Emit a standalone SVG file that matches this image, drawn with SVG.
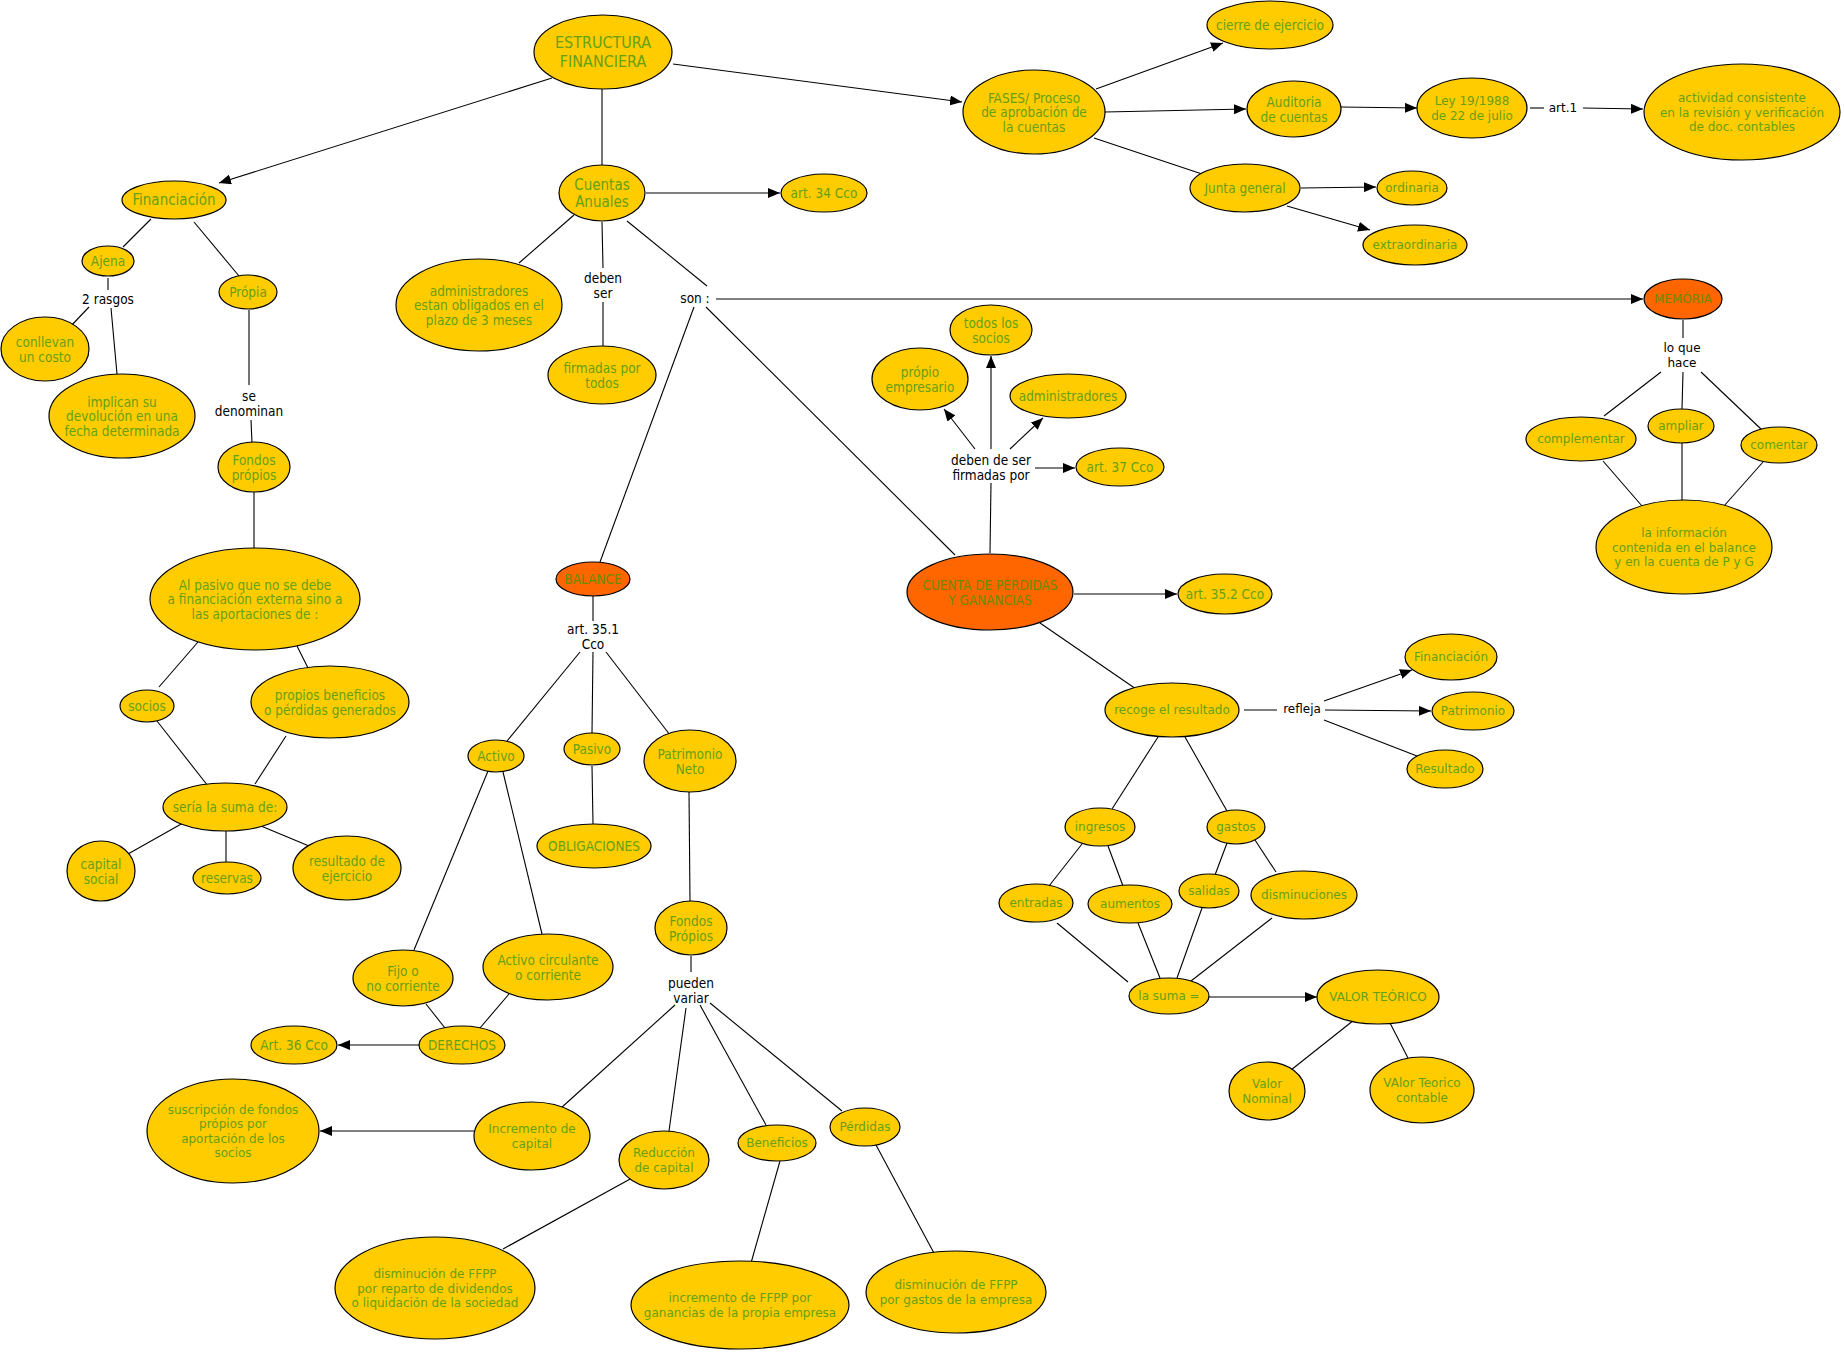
<svg xmlns="http://www.w3.org/2000/svg" width="1844" height="1353" viewBox="0 0 1844 1353">
<style>
.node ellipse{fill:#ffcc00;stroke:#000;stroke-width:1.2}
.node.or ellipse{fill:#ff6600}
.node text{fill:#66a014;text-anchor:middle}
.node.or text{fill:#6b8a00}
.lbl text{fill:#000;text-anchor:middle}
.t{font-family:"DejaVu Sans Condensed","Liberation Sans",sans-serif;font-size:13.5px}
.v{font-family:"DejaVu Sans",Verdana,sans-serif;font-size:12px}
#edges line{stroke:#000;stroke-width:1.1;fill:none}
#edges line.a{marker-end:url(#ah)}
</style>
<defs>
<marker id="ah" viewBox="0 0 12 10" refX="12" refY="5" markerWidth="12" markerHeight="10" orient="auto" markerUnits="userSpaceOnUse"><path d="M0,0 L12,5 L0,10 z" fill="#000"/></marker>
</defs>
<rect width="1844" height="1353" fill="#fff"/>
<g id="edges">
<line class="a" x1="552" y1="78" x2="219" y2="183"/>
<line x1="602" y1="89" x2="602" y2="165"/>
<line class="a" x1="673" y1="64" x2="962" y2="102"/>
<line x1="151" y1="219" x2="123" y2="247"/>
<line x1="194" y1="222" x2="239" y2="276"/>
<line x1="108" y1="278" x2="108" y2="290"/>
<line x1="89" y1="307" x2="69" y2="328"/>
<line x1="111" y1="308" x2="117" y2="374"/>
<line x1="249" y1="310" x2="249" y2="385"/>
<line x1="251" y1="420" x2="252" y2="443"/>
<line x1="254" y1="492" x2="254" y2="548"/>
<line x1="198" y1="642" x2="159" y2="687"/>
<line x1="297" y1="646" x2="308" y2="668"/>
<line x1="157" y1="721" x2="208" y2="786"/>
<line x1="286" y1="736" x2="255" y2="784"/>
<line x1="183" y1="823" x2="128" y2="854"/>
<line x1="226" y1="831" x2="226" y2="862"/>
<line x1="261" y1="826" x2="309" y2="846"/>
<line class="a" x1="646" y1="193" x2="780" y2="193"/>
<line x1="574" y1="215" x2="519" y2="263"/>
<line x1="602" y1="222" x2="603" y2="268"/>
<line x1="603" y1="302" x2="603" y2="346"/>
<line x1="627" y1="221" x2="707" y2="286"/>
<line class="a" x1="716" y1="299" x2="1643" y2="299"/>
<line x1="694" y1="307" x2="600" y2="562"/>
<line x1="706" y1="307" x2="955" y2="555"/>
<line x1="593" y1="596" x2="593" y2="621"/>
<line x1="580" y1="652" x2="507" y2="741"/>
<line x1="593" y1="652" x2="592" y2="733"/>
<line x1="606" y1="652" x2="670" y2="735"/>
<line x1="592" y1="766" x2="593" y2="824"/>
<line x1="488" y1="771" x2="414" y2="950"/>
<line x1="503" y1="772" x2="542" y2="934"/>
<line x1="426" y1="1004" x2="445" y2="1028"/>
<line x1="509" y1="994" x2="480" y2="1028"/>
<line class="a" x1="420" y1="1045" x2="338" y2="1045"/>
<line x1="689" y1="792" x2="690" y2="901"/>
<line x1="691" y1="956" x2="691" y2="972"/>
<line x1="675" y1="1005" x2="561" y2="1108"/>
<line x1="686" y1="1008" x2="669" y2="1131"/>
<line x1="700" y1="1005" x2="766" y2="1125"/>
<line x1="710" y1="1003" x2="842" y2="1111"/>
<line class="a" x1="474" y1="1131" x2="320" y2="1131"/>
<line x1="632" y1="1178" x2="503" y2="1249"/>
<line x1="780" y1="1161" x2="751" y2="1263"/>
<line x1="876" y1="1145" x2="935" y2="1255"/>
<line class="a" x1="1096" y1="89" x2="1223" y2="43"/>
<line class="a" x1="1105" y1="112" x2="1246" y2="109"/>
<line x1="1094" y1="138" x2="1205" y2="175"/>
<line class="a" x1="1341" y1="107" x2="1417" y2="108"/>
<line x1="1530" y1="108" x2="1544" y2="108"/>
<line class="a" x1="1583" y1="108" x2="1643" y2="109"/>
<line class="a" x1="1301" y1="188" x2="1376" y2="187"/>
<line class="a" x1="1287" y1="206" x2="1370" y2="230"/>
<line x1="1683" y1="320" x2="1683" y2="338"/>
<line x1="1661" y1="372" x2="1604" y2="416"/>
<line x1="1683" y1="372" x2="1682" y2="409"/>
<line x1="1701" y1="372" x2="1762" y2="430"/>
<line x1="1603" y1="461" x2="1642" y2="506"/>
<line x1="1682" y1="443" x2="1682" y2="500"/>
<line x1="1763" y1="462" x2="1724" y2="506"/>
<line x1="990" y1="553" x2="991" y2="483"/>
<line class="a" x1="991" y1="449" x2="991" y2="356"/>
<line class="a" x1="975" y1="449" x2="944" y2="409"/>
<line class="a" x1="1010" y1="449" x2="1043" y2="418"/>
<line class="a" x1="1035" y1="468" x2="1075" y2="468"/>
<line class="a" x1="1074" y1="594" x2="1177" y2="594"/>
<line x1="1040" y1="623" x2="1136" y2="689"/>
<line x1="1244" y1="710" x2="1277" y2="710"/>
<line class="a" x1="1324" y1="701" x2="1412" y2="670"/>
<line class="a" x1="1325" y1="710" x2="1431" y2="711"/>
<line x1="1324" y1="720" x2="1417" y2="756"/>
<line x1="1158" y1="737" x2="1112" y2="809"/>
<line x1="1185" y1="737" x2="1227" y2="811"/>
<line x1="1082" y1="844" x2="1049" y2="886"/>
<line x1="1108" y1="846" x2="1123" y2="886"/>
<line x1="1227" y1="843" x2="1215" y2="875"/>
<line x1="1255" y1="840" x2="1276" y2="872"/>
<line x1="1057" y1="923" x2="1128" y2="982"/>
<line x1="1138" y1="923" x2="1160" y2="978"/>
<line x1="1202" y1="908" x2="1177" y2="978"/>
<line x1="1272" y1="918" x2="1191" y2="981"/>
<line class="a" x1="1209" y1="997" x2="1317" y2="997"/>
<line x1="1354" y1="1020" x2="1291" y2="1070"/>
<line x1="1390" y1="1023" x2="1408" y2="1058"/>
</g>
<g id="labels" class="lbl">
<text class="t" x="108" y="304">2 rasgos</text>
<text class="t" x="249" y="401"><tspan x="249">se</tspan><tspan x="249" dy="14.5">denominan</tspan></text>
<text class="t" x="603" y="283"><tspan x="603">deben</tspan><tspan x="603" dy="14.5">ser</tspan></text>
<text class="t" x="695" y="303">son :</text>
<text class="t" x="593" y="634"><tspan x="593">art. 35.1</tspan><tspan x="593" dy="14.5">Cco</tspan></text>
<text class="t" x="691" y="988"><tspan x="691">pueden</tspan><tspan x="691" dy="14.5">variar</tspan></text>
<text class="t" x="991" y="465"><tspan x="991">deben de ser</tspan><tspan x="991" dy="14.5">firmadas por</tspan></text>
<text class="v" x="1563" y="112">art.1</text>
<text class="v" x="1682" y="352"><tspan x="1682">lo que</tspan><tspan x="1682" dy="14.5">hace</tspan></text>
<text class="v" x="1302" y="713">refleja</text>
</g>
<g id="n_estructura" class="node"><ellipse cx="603" cy="52" rx="69" ry="37"/><text class="t" style="font-size:16px" x="603" y="48"><tspan x="603">ESTRUCTURA</tspan><tspan x="603" dy="19">FINANCIERA</tspan></text></g>
<g id="n_financiacion" class="node"><ellipse cx="174" cy="200" rx="52" ry="19"/><text class="t" style="font-size:15px" x="174" y="205">Financiación</text></g>
<g id="n_ajena" class="node"><ellipse cx="108" cy="261" rx="26" ry="15"/><text class="t" x="108" y="266">Ajena</text></g>
<g id="n_propia" class="node"><ellipse cx="248" cy="292" rx="29" ry="17"/><text class="t" x="248" y="297">Própia</text></g>
<g id="n_conllevan" class="node"><ellipse cx="45" cy="349" rx="44" ry="32"/><text class="t" x="45" y="347"><tspan x="45">conllevan</tspan><tspan x="45" dy="14.5">un costo</tspan></text></g>
<g id="n_implican" class="node"><ellipse cx="122" cy="416" rx="73" ry="42"/><text class="t" x="122" y="406.5"><tspan x="122">implican su</tspan><tspan x="122" dy="14.5">devolución en una</tspan><tspan x="122" dy="14.5">fecha determinada</tspan></text></g>
<g id="n_fondos1" class="node"><ellipse cx="254" cy="467" rx="36" ry="25"/><text class="t" x="254" y="465"><tspan x="254">Fondos</tspan><tspan x="254" dy="14.5">própios</tspan></text></g>
<g id="n_alpasivo" class="node"><ellipse cx="255" cy="599" rx="105" ry="51"/><text class="t" x="255" y="589.5"><tspan x="255">Al pasivo que no se debe</tspan><tspan x="255" dy="14.5">a financiación externa sino a</tspan><tspan x="255" dy="14.5">las aportaciones de :</tspan></text></g>
<g id="n_socios" class="node"><ellipse cx="147" cy="706" rx="27" ry="16"/><text class="t" x="147" y="711">socios</text></g>
<g id="n_propiosben" class="node"><ellipse cx="330" cy="702" rx="79" ry="36"/><text class="t" x="330" y="700"><tspan x="330">propios beneficios</tspan><tspan x="330" dy="14.5">o pérdidas generados</tspan></text></g>
<g id="n_seria" class="node"><ellipse cx="225" cy="807" rx="62" ry="24"/><text class="t" x="225" y="812">sería la suma de:</text></g>
<g id="n_capital" class="node"><ellipse cx="101" cy="871" rx="34" ry="30"/><text class="t" x="101" y="869"><tspan x="101">capital</tspan><tspan x="101" dy="14.5">social</tspan></text></g>
<g id="n_reservas" class="node"><ellipse cx="227" cy="878" rx="34" ry="16"/><text class="t" x="227" y="883">reservas</text></g>
<g id="n_resultado" class="node"><ellipse cx="347" cy="868" rx="54" ry="32"/><text class="t" x="347" y="866"><tspan x="347">resultado de</tspan><tspan x="347" dy="14.5">ejercicio</tspan></text></g>
<g id="n_cuentas" class="node"><ellipse cx="602" cy="193" rx="43" ry="28"/><text class="t" style="font-size:15px" x="602" y="190"><tspan x="602">Cuentas</tspan><tspan x="602" dy="16.5">Anuales</tspan></text></g>
<g id="n_art34" class="node"><ellipse cx="824" cy="193" rx="43" ry="19"/><text class="t" x="824" y="198">art. 34 Cco</text></g>
<g id="n_adminobl" class="node"><ellipse cx="479" cy="305" rx="83" ry="46"/><text class="t" x="479" y="295.5"><tspan x="479">administradores</tspan><tspan x="479" dy="14.5">estan obligados en el</tspan><tspan x="479" dy="14.5">plazo de 3 meses</tspan></text></g>
<g id="n_firmadas" class="node"><ellipse cx="602" cy="375" rx="54" ry="29"/><text class="t" x="602" y="373"><tspan x="602">firmadas por</tspan><tspan x="602" dy="14.5">todos</tspan></text></g>
<g id="n_balance" class="node or"><ellipse cx="593" cy="579" rx="37" ry="17"/><text class="t" x="593" y="584">BALANCE</text></g>
<g id="n_activo" class="node"><ellipse cx="496" cy="756" rx="28" ry="16"/><text class="t" x="496" y="761">Activo</text></g>
<g id="n_pasivo" class="node"><ellipse cx="592" cy="749" rx="28" ry="16"/><text class="t" x="592" y="754">Pasivo</text></g>
<g id="n_patrimonio" class="node"><ellipse cx="690" cy="761" rx="46" ry="31"/><text class="t" x="690" y="759"><tspan x="690">Patrimonio</tspan><tspan x="690" dy="14.5">Neto</tspan></text></g>
<g id="n_obligaciones" class="node"><ellipse cx="594" cy="846" rx="57" ry="22"/><text class="t" x="594" y="851">OBLIGACIONES</text></g>
<g id="n_fijo" class="node"><ellipse cx="403" cy="978" rx="50" ry="28"/><text class="t" x="403" y="976"><tspan x="403">Fijo o</tspan><tspan x="403" dy="14.5">no corriente</tspan></text></g>
<g id="n_circulante" class="node"><ellipse cx="548" cy="967" rx="65" ry="33"/><text class="t" x="548" y="965"><tspan x="548">Activo circulante</tspan><tspan x="548" dy="14.5">o corriente</tspan></text></g>
<g id="n_derechos" class="node"><ellipse cx="462" cy="1045" rx="43" ry="19"/><text class="t" x="462" y="1050">DERECHOS</text></g>
<g id="n_art36" class="node"><ellipse cx="294" cy="1045" rx="43" ry="19"/><text class="t" x="294" y="1050">Art. 36 Cco</text></g>
<g id="n_fondos2" class="node"><ellipse cx="691" cy="928" rx="36" ry="27"/><text class="t" x="691" y="926"><tspan x="691">Fondos</tspan><tspan x="691" dy="14.5">Própios</tspan></text></g>
<g id="n_incremento" class="node"><ellipse cx="532" cy="1136" rx="58" ry="34"/><text class="v" x="532" y="1133"><tspan x="532">Incremento de</tspan><tspan x="532" dy="14.5">capital</tspan></text></g>
<g id="n_suscripcion" class="node"><ellipse cx="233" cy="1131" rx="86" ry="52"/><text class="v" x="233" y="1113.5"><tspan x="233">suscripción de fondos</tspan><tspan x="233" dy="14.5">própios por</tspan><tspan x="233" dy="14.5">aportación de los</tspan><tspan x="233" dy="14.5">socios</tspan></text></g>
<g id="n_reduccion" class="node"><ellipse cx="664" cy="1160" rx="45" ry="29"/><text class="v" x="664" y="1157"><tspan x="664">Reducción</tspan><tspan x="664" dy="14.5">de capital</tspan></text></g>
<g id="n_beneficios" class="node"><ellipse cx="777" cy="1143" rx="39" ry="18"/><text class="v" x="777" y="1147">Beneficios</text></g>
<g id="n_perdidas" class="node"><ellipse cx="865" cy="1127" rx="35" ry="19"/><text class="v" x="865" y="1131">Pérdidas</text></g>
<g id="n_dismreparto" class="node"><ellipse cx="435" cy="1288" rx="100" ry="51"/><text class="v" x="435" y="1278"><tspan x="435">disminución de FFPP</tspan><tspan x="435" dy="14.5">por reparto de dividendos</tspan><tspan x="435" dy="14.5">o liquidación de la sociedad</tspan></text></g>
<g id="n_incffpp" class="node"><ellipse cx="740" cy="1305" rx="109" ry="44"/><text class="v" x="740" y="1302"><tspan x="740">incremento de FFPP por</tspan><tspan x="740" dy="14.5">ganancias de la propia empresa</tspan></text></g>
<g id="n_dismgastos" class="node"><ellipse cx="956" cy="1292" rx="90" ry="41"/><text class="v" x="956" y="1289"><tspan x="956">disminución de FFPP</tspan><tspan x="956" dy="14.5">por gastos de la empresa</tspan></text></g>
<g id="n_fases" class="node"><ellipse cx="1034" cy="112" rx="71" ry="42"/><text class="t" x="1034" y="102.5"><tspan x="1034">FASES/ Proceso</tspan><tspan x="1034" dy="14.5">de aprobación de</tspan><tspan x="1034" dy="14.5">la cuentas</tspan></text></g>
<g id="n_cierre" class="node"><ellipse cx="1270" cy="25" rx="63" ry="24"/><text class="t" x="1270" y="30">cierre de ejercicio</text></g>
<g id="n_auditoria" class="node"><ellipse cx="1294" cy="109" rx="47" ry="28"/><text class="t" x="1294" y="107"><tspan x="1294">Auditoria</tspan><tspan x="1294" dy="14.5">de cuentas</tspan></text></g>
<g id="n_ley" class="node"><ellipse cx="1472" cy="108" rx="55" ry="30"/><text class="v" x="1472" y="105"><tspan x="1472">Ley 19/1988</tspan><tspan x="1472" dy="14.5">de 22 de julio</tspan></text></g>
<g id="n_actividad" class="node"><ellipse cx="1742" cy="112" rx="98" ry="48"/><text class="v" x="1742" y="102"><tspan x="1742">actividad consistente</tspan><tspan x="1742" dy="14.5">en la revisión y verificación</tspan><tspan x="1742" dy="14.5">de doc. contables</tspan></text></g>
<g id="n_junta" class="node"><ellipse cx="1245" cy="188" rx="55" ry="24"/><text class="t" x="1245" y="193">Junta general</text></g>
<g id="n_ordinaria" class="node"><ellipse cx="1412" cy="188" rx="35" ry="17"/><text class="v" x="1412" y="192">ordinaria</text></g>
<g id="n_extra" class="node"><ellipse cx="1415" cy="245" rx="52" ry="20"/><text class="v" x="1415" y="249">extraordinaria</text></g>
<g id="n_memoria" class="node or"><ellipse cx="1683" cy="299" rx="39" ry="20"/><text class="v" x="1683" y="303">MEMÓRIA</text></g>
<g id="n_complementar" class="node"><ellipse cx="1581" cy="439" rx="55" ry="22"/><text class="v" x="1581" y="443">complementar</text></g>
<g id="n_ampliar" class="node"><ellipse cx="1681" cy="426" rx="33" ry="17"/><text class="v" x="1681" y="430">ampliar</text></g>
<g id="n_comentar" class="node"><ellipse cx="1779" cy="445" rx="38" ry="18"/><text class="v" x="1779" y="449">comentar</text></g>
<g id="n_lainfo" class="node"><ellipse cx="1684" cy="547" rx="88" ry="47"/><text class="v" x="1684" y="537"><tspan x="1684">la información</tspan><tspan x="1684" dy="14.5">contenida en el balance</tspan><tspan x="1684" dy="14.5">y en la cuenta de P y G</tspan></text></g>
<g id="n_todos" class="node"><ellipse cx="991" cy="330" rx="41" ry="25"/><text class="t" x="991" y="328"><tspan x="991">todos los</tspan><tspan x="991" dy="14.5">socios</tspan></text></g>
<g id="n_propioemp" class="node"><ellipse cx="920" cy="379" rx="48" ry="31"/><text class="t" x="920" y="377"><tspan x="920">própio</tspan><tspan x="920" dy="14.5">empresario</tspan></text></g>
<g id="n_admin" class="node"><ellipse cx="1068" cy="396" rx="58" ry="22"/><text class="t" x="1068" y="401">administradores</text></g>
<g id="n_art37" class="node"><ellipse cx="1120" cy="467" rx="44" ry="19"/><text class="t" x="1120" y="472">art. 37 Cco</text></g>
<g id="n_pyg" class="node or"><ellipse cx="990" cy="592" rx="83" ry="38"/><text class="t" x="990" y="590"><tspan x="990">CUENTA DE PÉRDIDAS</tspan><tspan x="990" dy="14.5">Y GANANCIAS</tspan></text></g>
<g id="n_art352" class="node"><ellipse cx="1225" cy="594" rx="47" ry="20"/><text class="t" x="1225" y="599">art. 35.2 Cco</text></g>
<g id="n_recoge" class="node"><ellipse cx="1172" cy="710" rx="67" ry="27"/><text class="v" x="1172" y="714">recoge el resultado</text></g>
<g id="n_fin2" class="node"><ellipse cx="1451" cy="657" rx="46" ry="23"/><text class="v" x="1451" y="661">Financiación</text></g>
<g id="n_patrimonio2" class="node"><ellipse cx="1473" cy="711" rx="41" ry="19"/><text class="v" x="1473" y="715">Patrimonio</text></g>
<g id="n_resultado2" class="node"><ellipse cx="1445" cy="769" rx="38" ry="19"/><text class="v" x="1445" y="773">Resultado</text></g>
<g id="n_ingresos" class="node"><ellipse cx="1100" cy="827" rx="35" ry="19"/><text class="v" x="1100" y="831">ingresos</text></g>
<g id="n_gastos" class="node"><ellipse cx="1236" cy="827" rx="29" ry="17"/><text class="v" x="1236" y="831">gastos</text></g>
<g id="n_entradas" class="node"><ellipse cx="1036" cy="903" rx="37" ry="19"/><text class="v" x="1036" y="907">entradas</text></g>
<g id="n_aumentos" class="node"><ellipse cx="1130" cy="904" rx="42" ry="19"/><text class="v" x="1130" y="908">aumentos</text></g>
<g id="n_salidas" class="node"><ellipse cx="1209" cy="891" rx="30" ry="17"/><text class="v" x="1209" y="895">salidas</text></g>
<g id="n_dismin" class="node"><ellipse cx="1304" cy="895" rx="53" ry="24"/><text class="v" x="1304" y="899">disminuciones</text></g>
<g id="n_lasuma" class="node"><ellipse cx="1169" cy="996" rx="40" ry="18"/><text class="v" x="1169" y="1000">la suma =</text></g>
<g id="n_valor" class="node"><ellipse cx="1378" cy="997" rx="61" ry="27"/><text class="v" x="1378" y="1001">VALOR TEÓRICO</text></g>
<g id="n_nominal" class="node"><ellipse cx="1267" cy="1091" rx="38" ry="29"/><text class="v" x="1267" y="1088"><tspan x="1267">Valor</tspan><tspan x="1267" dy="14.5">Nominal</tspan></text></g>
<g id="n_contable" class="node"><ellipse cx="1422" cy="1090" rx="52" ry="33"/><text class="v" x="1422" y="1087"><tspan x="1422">VAlor Teorico</tspan><tspan x="1422" dy="14.5">contable</tspan></text></g>
</svg>
